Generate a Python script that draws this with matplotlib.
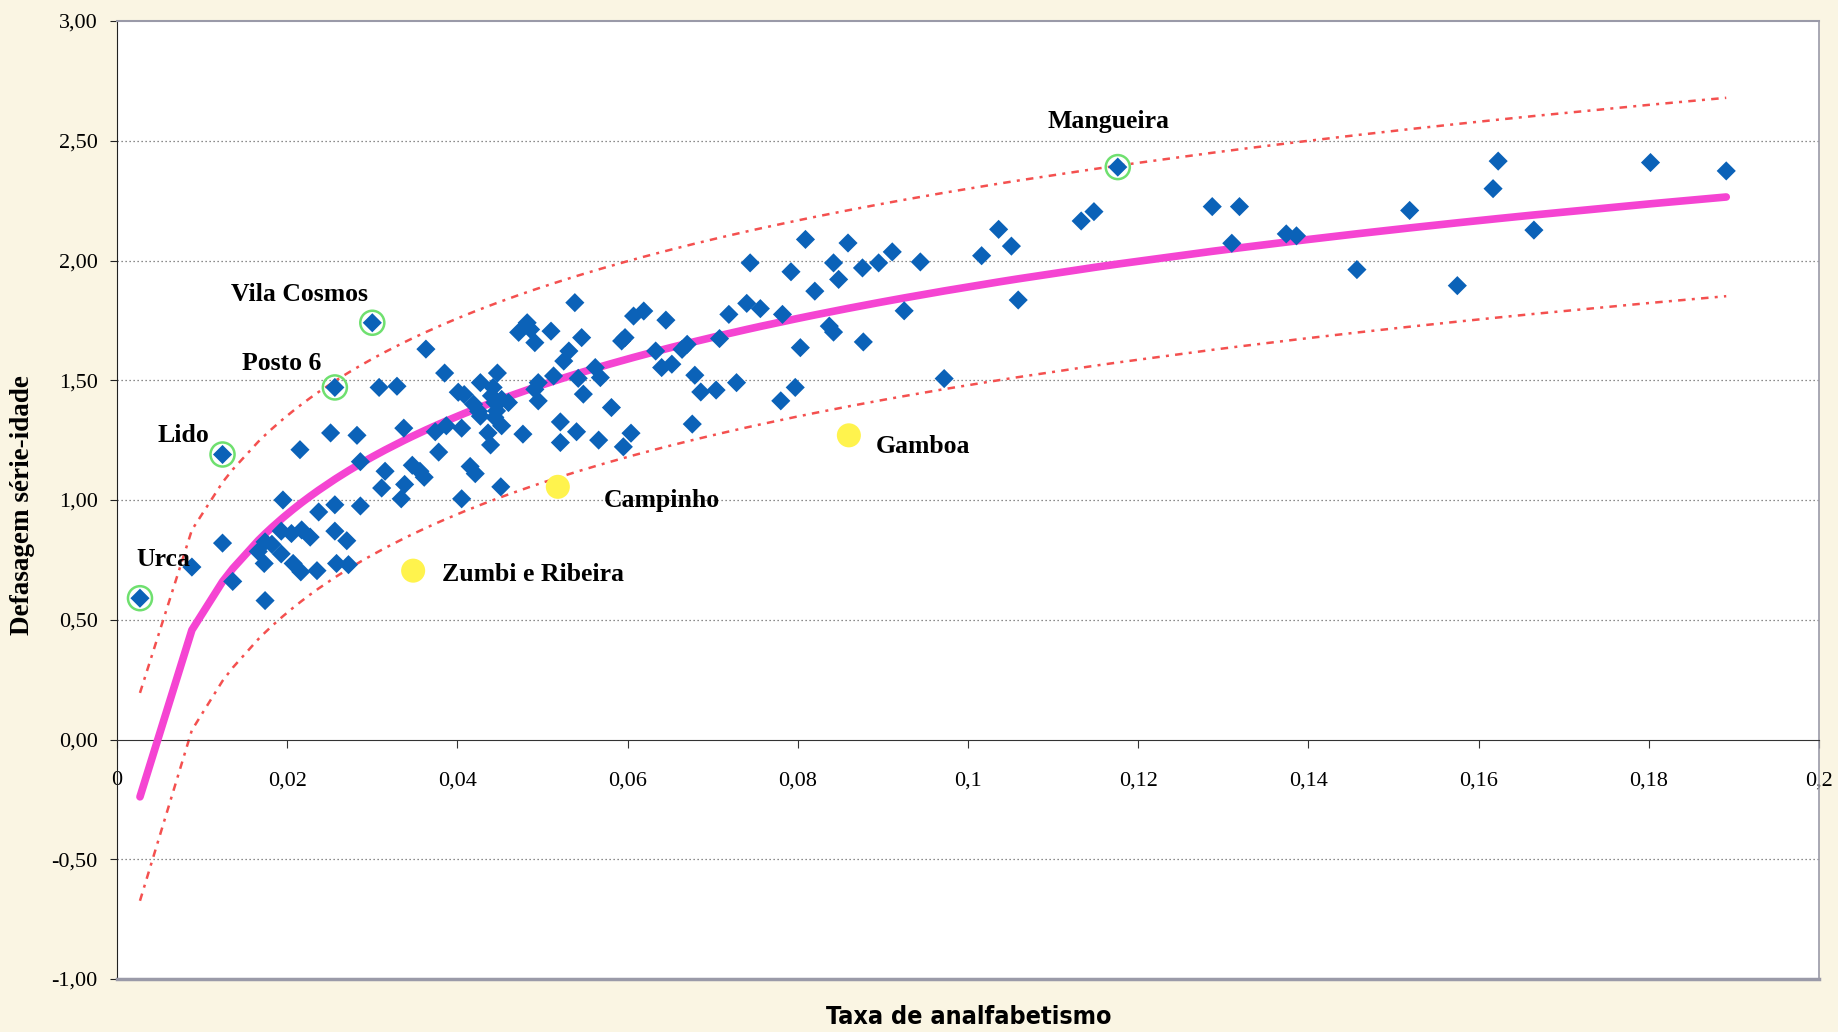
import numpy as np
import matplotlib.pyplot as plt

# taxa de analfabetismo x defasagem série-idade (bairros)
taxa = [0.0088, 0.0136, 0.0124, 0.0174, 0.0215, 0.0251, 0.0282, 0.0337, 0.0286, 0.0195,
        0.0237, 0.0256, 0.0286, 0.0193, 0.0205, 0.0217, 0.0227, 0.0174, 0.0182, 0.0166,
        0.0193, 0.0173, 0.0207, 0.0216, 0.0235, 0.0256, 0.0270, 0.0258, 0.0272, 0.0311,
        0.0315, 0.0338, 0.0334, 0.0347, 0.0356, 0.0361, 0.0378, 0.0374, 0.0387, 0.0405,
        0.0405, 0.0415, 0.0421, 0.0451, 0.0439, 0.0521, 0.0566, 0.0595, 0.0363, 0.0385,
        0.0308, 0.0329, 0.0401, 0.0408, 0.0427, 0.0447, 0.0442, 0.0419, 0.0425, 0.0427,
        0.0440, 0.0444, 0.0452, 0.0460, 0.0446, 0.0444, 0.0452, 0.0436, 0.0477, 0.0472,
        0.0482, 0.0491, 0.0486, 0.0510, 0.0538, 0.0546, 0.0531, 0.0525, 0.0513, 0.0495,
        0.0491, 0.0495, 0.0542, 0.0548, 0.0521, 0.0540, 0.0581, 0.0562, 0.0568, 0.0593,
        0.0597, 0.0607, 0.0619, 0.0645, 0.0633, 0.0640, 0.0652, 0.0664, 0.0670, 0.0604,
        0.0676, 0.0679, 0.0686, 0.0704, 0.0728, 0.0708, 0.0719, 0.0740, 0.0756, 0.0744,
        0.0782, 0.0792, 0.0809, 0.0820, 0.0803, 0.0797, 0.0780, 0.0837, 0.0842, 0.0842,
        0.0848, 0.0859, 0.0876, 0.0877, 0.0895, 0.0911, 0.0944, 0.0925, 0.0972, 0.1016,
        0.1036, 0.1051, 0.1059, 0.1133, 0.1148, 0.1287, 0.1319, 0.1310, 0.1374, 0.1386,
        0.1457, 0.1519, 0.1575, 0.1623, 0.1617, 0.1665, 0.1802, 0.1891]
defasagem = [0.72, 0.66, 0.82, 0.58, 1.21, 1.28, 1.27, 1.30, 1.16, 1.00,
             0.95, 0.98, 0.975, 0.87, 0.86, 0.875, 0.845, 0.825, 0.815, 0.785,
             0.775, 0.735, 0.735, 0.70, 0.705, 0.87, 0.83, 0.735, 0.73, 1.05,
             1.12, 1.065, 1.005, 1.145, 1.12, 1.095, 1.20, 1.285, 1.31, 1.30,
             1.005, 1.14, 1.11, 1.055, 1.23, 1.24, 1.25, 1.222, 1.63, 1.53,
             1.47, 1.475, 1.45, 1.44, 1.49, 1.53, 1.47, 1.40, 1.37, 1.35,
             1.435, 1.407, 1.42, 1.407, 1.372, 1.345, 1.31, 1.28, 1.275, 1.70,
             1.74, 1.657, 1.712, 1.705, 1.824, 1.678, 1.622, 1.58, 1.518, 1.49,
             1.462, 1.414, 1.508, 1.442, 1.326, 1.285, 1.386, 1.553, 1.511, 1.664,
             1.678, 1.768, 1.789, 1.751, 1.622, 1.553, 1.567, 1.629, 1.650, 1.279,
             1.317, 1.521, 1.451, 1.459, 1.49, 1.674, 1.775, 1.821, 1.799, 1.99,
             1.775, 1.953, 2.088, 1.872, 1.636, 1.47, 1.414, 1.726, 1.701, 1.99,
             1.921, 2.073, 1.969, 1.66, 1.99, 2.036, 1.994, 1.79, 1.507, 2.02,
             2.13, 2.06, 1.835, 2.165, 2.204, 2.225, 2.225, 2.072, 2.111, 2.103,
             1.962, 2.209, 1.895, 2.415, 2.30, 2.127, 2.409, 2.374]

# bairros destacados (circulados)
destaque_nomes = ["Urca", "Lido", "Posto 6", "Vila Cosmos", "Mangueira"]
destaque_taxa = [0.0027, 0.0124, 0.0256, 0.0300, 0.1176]
destaque_def = [0.59, 1.19, 1.47, 1.74, 2.39]

# favelas (pontos amarelos)
favelas_nomes = ["Zumbi e Ribeira", "Campinho", "Gamboa"]
favelas_taxa = [0.0348, 0.0518, 0.0860]
favelas_def = [0.705, 1.055, 1.27]

yticks = [-1.0, -0.5, 0.0, 0.5, 1.0, 1.5, 2.0, 2.5, 3.0]
ytick_labels = ["-1,00", "-0,50", "0,00", "0,50", "1,00", "1,50", "2,00", "2,50", "3,00"]
xticks = [0, 0.02, 0.04, 0.06, 0.08, 0.1, 0.12, 0.14, 0.16, 0.18, 0.2]
xtick_labels = ["0", "0,02", "0,04", "0,06", "0,08", "0,1", "0,12", "0,14", "0,16", "0,18", "0,2"]

# regressao logaritmica y = a + b ln(x) e intervalo de previsao
x_all = np.array(taxa + destaque_taxa)
y_all = np.array(defasagem + destaque_def)
b, a = np.polyfit(np.log(x_all), y_all, 1)
xs = np.sort(x_all)
lx = np.log(xs)
ajuste = a + b * lx
n = len(x_all)
res = y_all - (a + b * np.log(x_all))
s = np.sqrt(np.sum(res ** 2) / (n - 2))
lm = np.log(x_all).mean()
sxx = np.sum((np.log(x_all) - lm) ** 2)
meia = 1.98 * s * np.sqrt(1 + 1 / n + (lx - lm) ** 2 / sxx)

serif = ["Liberation Serif", "DejaVu Serif"]
fig = plt.figure(figsize=(18.38, 10.32), dpi=100, facecolor="#faf5e3")
ax = fig.add_axes([117 / 1838, 1 - 979 / 1032, 1702 / 1838, 958 / 1032])
ax.set_facecolor("white")
ax.set_xlim(0, 0.2)
ax.set_ylim(-1, 3)

for g in [-0.5, 0.5, 1.0, 1.5, 2.0, 2.5]:
    ax.axhline(g, color="#666666", lw=0.9, ls=(0, (1, 2.2)), zorder=1)

ax.plot(xs, ajuste + meia, color="#f4504f", lw=1.8, ls=(0, (3, 2.5, 1.2, 2.5)), zorder=2)
ax.plot(xs, ajuste - meia, color="#f4504f", lw=1.8, ls=(0, (3, 2.5, 1.2, 2.5)), zorder=2)
ax.plot(xs, ajuste, color="#f544d2", lw=5.5, solid_capstyle="round", zorder=3)

ax.scatter(taxa + destaque_taxa, defasagem + destaque_def, marker="D", s=95,
           color="#0b62b8", edgecolors="none", zorder=4)
ax.scatter(destaque_taxa, destaque_def, marker="o", s=300, facecolors="none",
           edgecolors="#6fe06f", linewidths=1.8, zorder=5)
ax.scatter(favelas_taxa, favelas_def, marker="o", s=300, color="#fff34d",
           edgecolors="none", zorder=4)

# posicao dos rotulos
pos_rotulos = {"Urca": (0.0054, 0.75), "Lido": (0.0078, 1.27), "Posto 6": (0.0194, 1.57),
               "Vila Cosmos": (0.0214, 1.86), "Mangueira": (0.1165, 2.58),
               "Zumbi e Ribeira": (0.0489, 0.69), "Campinho": (0.0640, 1.00),
               "Gamboa": (0.0947, 1.225)}
for nome, (px, py) in pos_rotulos.items():
    ax.text(px, py, nome, family=serif, fontsize=18.5, fontweight="bold",
            ha="center", va="center", zorder=6)

# eixos: x cruza em y = 0, moldura cinza
ax.spines["bottom"].set_position(("data", 0))
ax.spines["bottom"].set_color("#333333")
ax.spines["left"].set_color("#222222")
ax.spines["top"].set_color("#9a9aa8")
ax.spines["right"].set_color("#9a9aa8")
ax.spines["top"].set_linewidth(1.5)
ax.spines["right"].set_linewidth(1.2)
ax.axhline(-1, color="#9a9aa8", lw=2.5, clip_on=False, zorder=6)

ax.set_yticks(yticks)
ax.set_yticklabels(ytick_labels, family=serif, fontsize=16)
ax.set_xticks(xticks)
ax.set_xticklabels(xtick_labels, family=serif, fontsize=16)
ax.tick_params(axis="y", direction="out", length=5, pad=9, color="#222222")
ax.tick_params(axis="x", direction="out", length=6, pad=17, color="#333333")

fig.text(23 / 1838, 1 - 505 / 1032, "Defasagem série-idade", rotation=90,
         family=serif, fontsize=19.5, fontweight="bold", ha="center", va="center")
fig.text(969 / 1838, 1 - 1017 / 1032, "Taxa de analfabetismo",
         family="DejaVu Sans", fontstretch="condensed", fontsize=18,
         fontweight="bold", ha="center", va="center")

fig.savefig("out.png", dpi=100, facecolor=fig.get_facecolor())
